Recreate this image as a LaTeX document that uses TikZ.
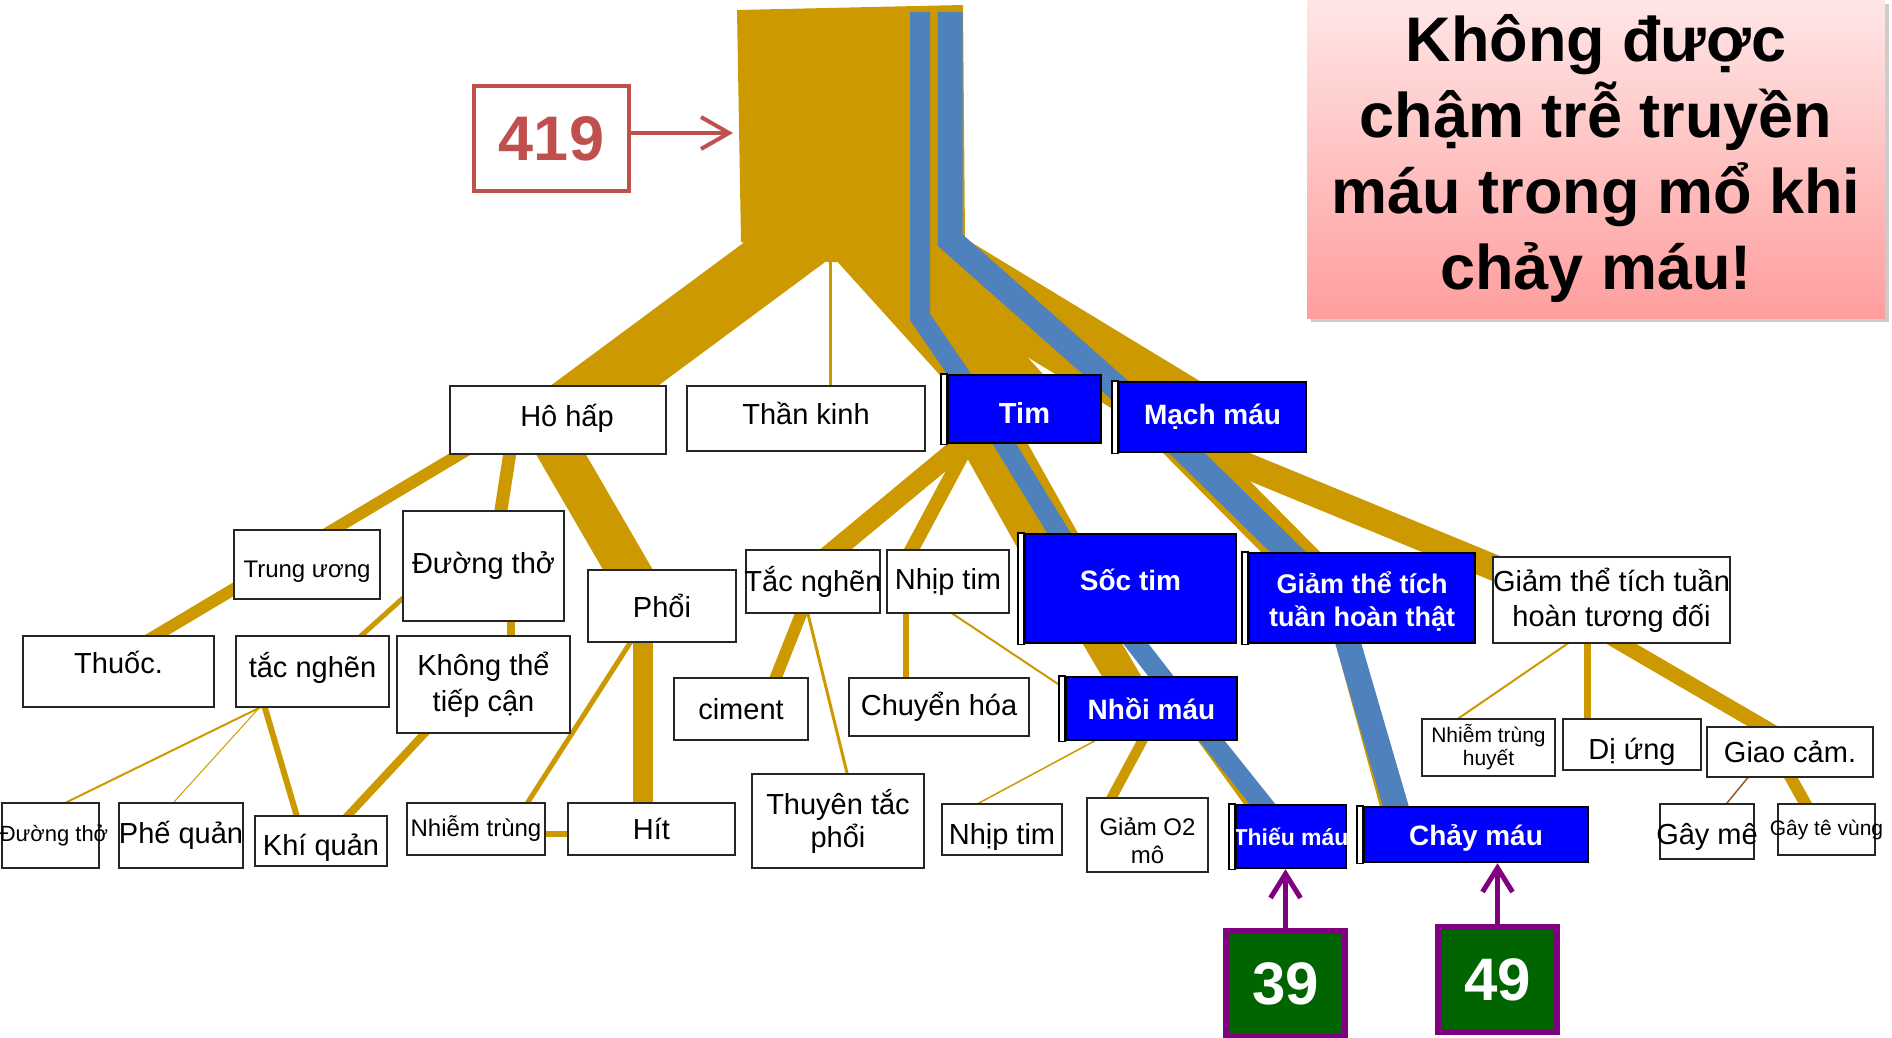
\documentclass[tikz,border=0pt]{standalone}
\usepackage{fontspec}
\setmainfont{Liberation Sans}
\usetikzlibrary{arrows.meta}
\pgfdeclarelayer{goldlayer}
\pgfdeclarelayer{bluelayer}
\pgfsetlayers{goldlayer,bluelayer,main}
\definecolor{gold}{RGB}{204,153,0}
\definecolor{steel}{RGB}{79,129,189}
\definecolor{redbrick}{RGB}{192,80,77}
\definecolor{darkgreen}{RGB}{0,100,0}
\definecolor{purp}{RGB}{128,0,128}
\definecolor{pinktop}{RGB}{255,230,230}
\definecolor{pinkbot}{RGB}{255,158,158}
\definecolor{brownline}{RGB}{150,90,40}
\newcommand{\fsz}[2]{\fontsize{#1}{#2}\selectfont}
\newcommand{\spill}[1]{\makebox[0pt]{#1}}
\newcommand{\dropby}[2]{\raisebox{0pt}[\dimexpr\height+#1pt\relax]{#2}}
\newcommand{\twolines}[2]{\begin{tabular}{@{}c@{}}#1\\#2\end{tabular}}
\tikzset{
  box/.style={draw=black!85, line width=2pt, fill=white, inner sep=0pt, align=center, font=\fsz{29}{34}},
  bbox/.style={box, draw=black, line width=2.5pt, fill=blue, text=white, font=\bfseries\fsz{28}{33}},
  wh/.style 2 args={minimum width=#1pt, minimum height=#2pt},
  branch/.style={draw=gold, line width=#1pt, shorten <=-4pt, shorten >=-4pt},
  stripe/.style={draw=steel, line width=#1pt},
  numbox/.style={draw=purp, line width=6pt, fill=darkgreen, text=white, inner sep=0pt, font=\bfseries\fsz{60}{66}},
}
\begin{document}
\begin{tikzpicture}[x=1pt,y=-1pt]
\useasboundingbox (0,0) rectangle (1892,1038);

\fill[black!20] (1311,4) rectangle (1889,322);
\node[font=\bfseries\fsz{63}{76}, align=center, inner sep=0pt, wh={578}{318}, top color=pinktop, bottom color=pinkbot] (title) at (1596,159) {Không được\\chậm trễ truyền\\máu trong mổ khi\\chảy máu!};

\node[box, wh={155}{105}, draw=redbrick, line width=4pt, text=redbrick, font=\bfseries\fsz{63}{70}] (n419) at (551.5,138.5) {419};

\node[box, wh={216}{68}] (hohap) at (558,420) {\raisebox{9pt}{\hspace*{18pt}Hô hấp}};
\node[box, wh={238}{65}] (thankinh) at (806,418.5) {\raisebox{10pt}{Thần kinh}};
\node[bbox, wh={153}{68}, font=\bfseries\fsz{29}{34}] (tim) at (1024.5,409) {\dropby{7}{Tim}};
\node[bbox, wh={187}{70}] (mach) at (1212.5,417) {Mạch máu};

\node[box, wh={146}{69}, font=\fsz{24}{28}] (trung) at (307,564.5) {\dropby{14}{Trung ương}};
\node[box, wh={161}{110}] (duongtho) at (483.5,566) {Đường thở};
\node[box, wh={148}{72}] (phoi) at (662,606) {Phổi};
\node[box, wh={134}{63}] (tacnghen) at (813,581.5) {\spill{Tắc nghẽn}};
\node[box, wh={122}{63}] (nhiptimA) at (948,581.5) {Nhịp tim};
\node[bbox, wh={211}{109}] (soc) at (1130.5,588.5) {\raisebox{17pt}{Sốc tim}};
\node[bbox, wh={226}{90}, font=\bfseries\fsz{27}{33}] (giamthat) at (1362,598) {\dropby{11}{\twolines{Giảm thể tích}{tuần hoàn thật}}};
\node[box, wh={237}{86}, font=\fsz{29}{35}] (tuongdoi) at (1611.5,600) {\spill{Giảm thể tích tuần}\\hoàn tương đối};

\node[box, wh={191}{71}] (thuoc) at (118.5,671.5) {\raisebox{18pt}{Thuốc.}};
\node[box, wh={153}{71}] (tacnghenB) at (312.5,671.5) {\raisebox{14pt}{tắc nghẽn}};
\node[box, wh={173}{97}, font=\fsz{29}{36}] (khongthe) at (483.5,684.5) {Không thể\\tiếp cận};
\node[box, wh={134}{62}] (ciment) at (741,709) {ciment};
\node[box, wh={180}{58}] (chuyenhoa) at (939,707) {Chuyển hóa};
\node[bbox, wh={171}{63}] (nhoi) at (1151.5,708.5) {Nhồi máu};
\node[box, wh={133}{57}, font=\fsz{21}{23}] (nhiemhuyet) at (1488.5,747.5) {Nhiễm trùng\\huyết};
\node[box, wh={138}{51}] (diung) at (1632,744.5) {\dropby{14}{Dị ứng}};
\node[box, wh={166}{50}] (giaocam) at (1790,752) {Giao cảm.};

\node[box, wh={97}{65}, font=\fsz{22}{26}] (duongthoB) at (50,835.5) {\spill{\hspace*{8pt}Đường thở}};
\node[box, wh={124}{65}] (phequan) at (181,835.5) {\spill{Phế quản}};
\node[box, wh={132}{50}] (khiquan) at (321,841) {\dropby{14}{Khí quản}};
\node[box, wh={138}{52}, font=\fsz{24}{28}] (nhiemtrung) at (476,829) {Nhiễm trùng};
\node[box, wh={167}{52}] (hit) at (651.5,829) {Hít};
\node[box, wh={172}{94}, font=\fsz{29}{33}] (thuyen) at (838,821) {Thuyên tắc\\phổi};
\node[box, wh={120}{51}] (nhiptimB) at (1002,829.5) {\dropby{14}{Nhịp tim}};
\node[box, wh={121}{62}, font=\fsz{24}{28}] (giamo2) at (1147.5,835) {\dropby{18}{\twolines{Giảm O2}{mô}}};
\node[bbox, wh={110}{63}, font=\bfseries\fsz{23}{27}] (thieu) at (1291,836.5) {\spill{Thiếu máu}};
\node[bbox, wh={224}{55}] (chay) at (1476,834.5) {\dropby{7}{Chảy máu}};
\node[box, wh={94}{55}] (gayme) at (1707,831.5) {\dropby{10}{\spill{Gây mê}}};
\node[box, wh={97}{51}, font=\fsz{21}{25}] (gayte) at (1826.5,829.5) {\spill{Gây tê vùng}};

\node[numbox, wh={119}{106}] (n39) at (1285.5,984) {39};
\node[numbox, wh={119}{105}] (n49) at (1497.5,979.5) {49};

\foreach \n in {tim,mach,soc,giamthat,nhoi,thieu,chay}
  \draw[line width=1.5pt, fill=white] ([xshift=-6pt]\n.north west) rectangle (\n.south west);

\coordinate (trunkL) at (820,226);
\coordinate (trunkN) at (830,262);
\coordinate (trunkT) at (866,236);
\coordinate (trunkM) at (901,240);
\coordinate (trunkIn) at (733,133);
\coordinate (blueA) at (920,12);
\coordinate (blueA2) at (920,317);
\coordinate (blueB) at (950,12);
\coordinate (blueB2) at (950,240);

\begin{pgfonlayer}{goldlayer}
\fill[gold] (737,10) -- (963,5) -- (965,240) -- (840,262) -- (828,262) -- (741,242) -- cycle;
\draw[branch=64] (trunkL) -- (hohap.center);
\draw[branch=3] (trunkN) -- ([xshift=24pt]thankinh.north);
\draw[branch=77] (trunkT) -- ([xshift=-2pt]tim.center);
\draw[branch=69] (trunkM) -- ([xshift=-20pt]mach.center);
\draw[branch=12] ([xshift=-41pt]hohap.center) -- ([xshift=-32pt]trung.center) -- ([xshift=-23pt]thuoc.center);
\draw[branch=13] ([xshift=-43pt]hohap.center) -- ([xshift=17.5pt]duongtho.north);
\draw[branch=43] ([xshift=-17pt]hohap.center) -- ([xshift=-13pt]phoi.center);
\draw[branch=8] ([xshift=27.5pt]duongtho.south) -- ([xshift=27.5pt]khongthe.north);
\draw[branch=5] ([yshift=-33pt]duongtho.west) -- ([xshift=49.5pt]tacnghenB.north);
\draw[branch=2] ([xshift=-53.5pt]tacnghenB.south) -- ([xshift=17pt]duongthoB.north);
\draw[branch=1] ([xshift=-53.5pt]tacnghenB.south) -- ([xshift=-7pt]phequan.north);
\draw[branch=6] ([xshift=-47.5pt]tacnghenB.south) -- ([xshift=-24.5pt]khiquan.north);
\draw[branch=8] ([xshift=-59.5pt]khongthe.south) -- ([xshift=27.5pt]khiquan.north);
\draw[branch=5] ([xshift=-32pt]phoi.south) -- ([xshift=52pt]nhiemtrung.north);
\draw[branch=20] ([xshift=-19pt]phoi.south) -- ([xshift=-8.5pt]hit.north);
\draw[branch=6] ([yshift=-5pt]nhiemtrung.east) -- ([yshift=-5pt]hit.west);
\draw[branch=20] ([xshift=-19.5pt]tim.center) -- ([xshift=-16pt]tacnghen.center);
\draw[branch=14] ([xshift=-56.5pt]tim.south) -- ([xshift=-36pt]nhiptimA.north);
\draw[branch=60] ([xshift=-50.5pt]tim.center) -- ([xshift=-56pt]soc.center);
\draw[branch=12] ([xshift=-12pt]tacnghen.south) -- ([xshift=35pt]ciment.north);
\draw[branch=3] ([xshift=-5pt]tacnghen.south) -- ([xshift=9pt]thuyen.north);
\draw[branch=6] ([xshift=-42pt]nhiptimA.south) -- ([xshift=-33pt]chuyenhoa.north);
\draw[branch=2] ([xshift=5pt]nhiptimA.south) -- ([yshift=20pt]nhoi.west);
\draw[branch=34] ([xshift=-60.5pt]soc.center) -- ([xshift=-11pt]nhoi.center);
\draw[branch=10] ([xshift=-9.5pt]nhoi.south) -- ([xshift=-35.5pt]giamo2.north);
\draw[branch=1.5] ([xshift=-57.5pt]nhoi.south) -- ([xshift=-23pt]nhiptimB.north);
\draw[branch=14] ([xshift=31.5pt]nhoi.center) -- ([xshift=-15pt]thieu.center);
\draw[branch=42] ([xshift=-55.5pt]mach.center) -- ([xshift=-26pt]giamthat.center);
\draw[branch=26] ([xshift=-84.5pt]mach.center) -- ([xshift=37pt,yshift=-26pt]tuongdoi.north west);
\draw[branch=14] ([xshift=-19pt]giamthat.south) -- ([xshift=-89pt]chay.north);
\draw[branch=2] ([xshift=-44.5pt]tuongdoi.south) -- ([xshift=-29.5pt]nhiemhuyet.north);
\draw[branch=7] ([xshift=-24.5pt]tuongdoi.south) -- ([xshift=-45pt]diung.north);
\draw[branch=15] ([xshift=-65.5pt]tuongdoi.center) -- ([xshift=17pt]giaocam.center);
\draw[branch=1.5, draw=brownline] ([xshift=-42.5pt]giaocam.south) -- ([xshift=20pt]gayme.north);
\draw[branch=12] ([xshift=1pt]giaocam.south) -- ([xshift=-21.5pt]gayte.north);
\end{pgfonlayer}

\begin{pgfonlayer}{bluelayer}
\draw[stripe=20] (blueA) -- (blueA2) -- ([xshift=-41.5pt]tim.center) -- ([xshift=-37.5pt]soc.center) -- ([xshift=34.5pt]nhoi.center) -- ([xshift=-2.5pt]thieu.center);
\draw[stripe=25] (blueB) -- (blueB2) -- ([xshift=-62.5pt]mach.center) -- ([xshift=-27pt]giamthat.center) -- ([xshift=-72pt]chay.center);
\end{pgfonlayer}

\draw[redbrick, line width=4pt, -{Straight Barb[length=28pt,width=32pt]}] ([yshift=5.5pt]n419.east) -- (trunkIn);
\draw[purp, line width=5pt, -{Straight Barb[length=24pt,width=30pt]}] (n39.north) -- (n39.north |- thieu.south);
\draw[purp, line width=5pt, -{Straight Barb[length=24pt,width=30pt]}] (n49.north) -- (n49.north |- chay.south);
\end{tikzpicture}
\end{document}
